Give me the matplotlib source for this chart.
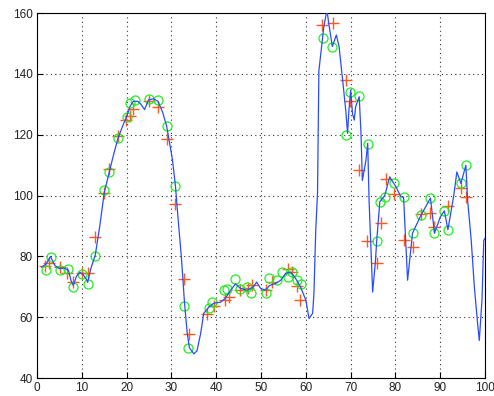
import matplotlib
matplotlib.use('Agg')
import matplotlib.pyplot as plt

# measured signal (blue line)
line_x = [1.0, 2.0, 3.0, 4.0, 5.0, 6.0, 7.0, 7.6, 8.1, 8.8, 9.6, 10.3, 11.0, 11.3,
          12.0, 13.0, 14.0, 15.0, 16.0, 17.0, 18.0, 19.0, 20.0, 20.8, 21.5, 22.5,
          23.2, 24.0, 24.9, 26.0, 27.0, 28.0, 28.9, 29.5, 30.2, 30.9, 31.5, 32.2,
          32.9, 33.5, 34.0, 35.0, 35.7, 36.5, 37.2, 38.3, 39.4, 41.0, 42.0, 43.2,
          44.3, 45.4, 46.9, 48.3, 49.0, 49.9, 51.0, 51.9, 53.2, 54.4, 55.5, 56.6,
          57.7, 58.8, 60.0, 60.7, 61.5, 61.8, 62.2, 62.6, 62.9, 64.0, 64.7, 65.1,
          65.9, 66.8, 67.4, 68.2, 68.9, 69.3, 69.6, 70.0, 70.4, 70.8, 71.1, 71.9,
          72.3, 72.6, 73.4, 73.8, 74.1, 74.9, 75.5, 75.8, 76.5, 77.6, 78.7, 80.1,
          81.2, 81.8, 82.7, 83.8, 85.7, 87.8, 88.7, 90.0, 90.9, 91.7, 93.0, 93.7,
          94.6, 95.7, 96.1, 96.9, 97.6, 98.4, 98.7, 99.3, 99.7, 100.0]
line_y = [76.5, 77.5, 80.0, 77.0, 76.0, 76.2, 75.5, 72.0, 70.5, 73.5, 74.8, 74.0, 72.5, 71.5,
          76.0, 80.5, 90.0, 101.0, 107.0, 113.0, 118.5, 122.5, 126.0, 129.5, 131.0, 131.0,
          130.0, 128.3, 131.5, 131.8, 131.0, 127.5, 123.0, 118.0, 112.0, 103.0, 92.0, 80.0,
          65.0, 55.0, 50.0, 48.0, 49.0, 54.6, 61.3, 63.3, 64.6, 65.0, 66.2, 68.9,
          71.0, 69.5, 68.9, 70.0, 71.6, 69.5, 68.9, 70.5, 71.1, 72.2, 74.5, 74.9,
          72.8, 70.0, 65.6, 59.6, 61.3, 67.9, 88.6, 101.0, 141.0, 155.5, 161.0, 156.7,
          149.0, 152.8, 149.0, 138.0, 128.0, 120.5, 128.0, 134.7, 127.0, 124.8, 129.2, 132.5,
          120.5, 105.0, 111.6, 117.2, 98.5, 68.3, 78.0, 85.0, 98.0, 100.0, 106.2, 102.9,
          99.6, 99.5, 72.2, 87.7, 93.6, 99.2, 87.7, 93.0, 95.0, 88.8, 100.0, 107.8,
          104.0, 110.0, 98.5, 85.3, 70.0, 56.7, 52.4, 65.6, 85.3, 86.0]

# samples (green circles)
circ_x = [2.0, 3.1, 5.1, 7.0, 8.1, 10.0, 11.3, 13.0, 15.0, 16.0, 18.0, 20.0, 20.8, 21.9,
          24.9, 27.0, 28.9, 30.9, 32.9, 33.8, 38.3, 39.1, 41.7, 42.4, 44.1, 45.3, 46.9,
          47.8, 51.0, 51.7, 53.6, 54.7, 55.9, 57.0, 58.1, 58.8, 63.8, 65.9, 68.9, 69.8,
          71.9, 73.8, 75.8, 76.5, 77.6, 79.6, 81.8, 83.8, 85.7, 87.8, 88.7, 90.9, 91.7,
          94.6, 95.7]
circ_y = [75.7, 79.8, 75.7, 76.0, 70.0, 74.4, 70.9, 80.0, 101.8, 107.8, 118.8, 126.0, 130.3, 131.4,
          131.9, 131.4, 122.8, 103.0, 63.7, 49.8, 63.0, 65.0, 68.9, 69.4, 72.7, 69.4, 70.0,
          68.0, 68.0, 73.0, 72.2, 74.9, 73.3, 74.9, 72.2, 71.1, 151.9, 148.9, 119.9, 134.1,
          132.8, 117.1, 85.0, 98.0, 99.5, 104.0, 99.5, 87.7, 93.6, 99.2, 87.7, 95.0, 88.8,
          104.0, 110.0]

# predictions (red pluses)
plus_x = [1.8, 2.6, 5.1, 6.6, 8.1, 10.0, 11.3, 13.0, 15.0, 16.0, 18.0, 19.9, 20.8, 21.5,
          24.9, 27.0, 28.9, 30.9, 32.9, 34.0, 38.0, 39.4, 42.0, 42.8, 45.2, 47.0, 48.0,
          51.0, 52.5, 55.9, 57.0, 58.1, 58.7, 63.7, 66.1, 68.9, 69.9, 71.9, 73.6, 75.8,
          76.7, 77.9, 79.6, 81.8, 83.8, 85.7, 87.7, 88.7, 91.7, 94.6, 95.7]
plus_y = [77.0, 77.8, 76.6, 74.5, 71.6, 74.6, 74.6, 86.4, 100.7, 108.9, 119.5, 124.8, 126.1, 128.6,
          131.2, 129.0, 118.5, 97.2, 72.5, 54.5, 61.2, 63.6, 65.6, 66.7, 69.0, 69.5, 70.5,
          69.0, 71.6, 76.0, 74.9, 70.2, 65.6, 156.0, 156.8, 138.0, 131.2, 108.4, 85.0, 77.8,
          91.0, 105.4, 100.5, 85.3, 83.0, 94.0, 94.3, 89.7, 96.5, 102.4, 99.6]

x_ticks = list(range(0, 101, 10))
y_ticks = list(range(40, 161, 20))

plt.rcParams['font.family'] = ['Liberation Sans', 'DejaVu Sans']

fig = plt.figure(figsize=(4.94, 3.96), dpi=100)
ax = fig.add_axes([0.075, 0.045, 0.907, 0.922])

ax.plot(plus_x, plus_y, '+', color='#ff5a1e', markersize=8, markeredgewidth=1.0, zorder=3)
ax.plot(circ_x, circ_y, 'o', mfc='none', mec='#22ee22', markersize=6.5, markeredgewidth=0.9, zorder=3)
ax.plot(line_x, line_y, '-', color='#2a4cff', linewidth=0.9, zorder=4)

ax.set_xlim(0, 100)
ax.set_ylim(40, 160)
ax.set_xticks(x_ticks)
ax.set_yticks(y_ticks)
ax.grid(True, linestyle=(0, (1, 3)), color='#333333', linewidth=0.8)
ax.tick_params(direction='in', length=4, width=0.8, labelsize=8.5,
               labelcolor='#222222', top=False, right=False, pad=3)
for s in ax.spines.values():
    s.set_linewidth(0.8)

fig.savefig('out.png', dpi=100)
